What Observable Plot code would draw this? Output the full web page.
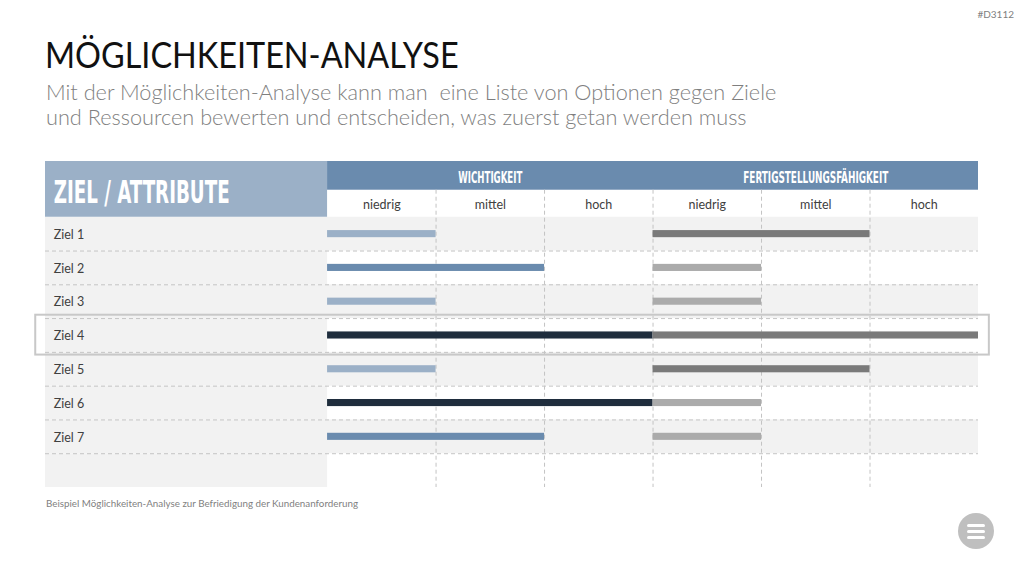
<!DOCTYPE html>
<html>
<head>
<meta charset="utf-8">
<script src="https://cdn.jsdelivr.net/npm/d3@7"></script>
<script src="https://cdn.jsdelivr.net/npm/@observablehq/plot@0.6"></script>
<style>
  body { margin: 0; background: #fff; }
  #page { position: relative; width: 1024px; height: 576px; overflow: hidden; font-family: Lato, "Open Sans", sans-serif; }
  #code { position: absolute; right: 10px; top: 8px; font-size: 10px; color: #808080; }
  #title { position: absolute; left: 45px; top: 36px; font-size: 36px; color: #111; white-space: nowrap; line-height: 1; transform: scaleX(0.9); transform-origin: left top; }
  #subtitle { position: absolute; left: 46px; top: 80px; font-size: 21.7px; font-weight: 300; color: #7f7f7f; line-height: 25px; white-space: nowrap; }
  #chart { position: absolute; left: 0; top: 140px; }
  #caption { position: absolute; left: 46px; top: 497px; font-size: 9.8px; color: #7f7f7f; white-space: nowrap; }
  #menu { position: absolute; left: 958px; top: 513px; width: 36px; height: 36px; border-radius: 50%; background: #bfbfbf; }
  #menu div { position: absolute; left: 9px; width: 18px; height: 3px; border-radius: 2px; background: #fff; }
</style>
</head>
<body>
<div id="page">
  <div id="code">#D3112</div>
  <div id="title">MÖGLICHKEITEN-ANALYSE</div>
  <div id="subtitle">Mit der Möglichkeiten-Analyse kann man&nbsp; eine Liste von Optionen gegen Ziele<br>und Ressourcen bewerten und entscheiden, was zuerst getan werden muss</div>
  <div id="chart"></div>
  <div id="caption">Beispiel Möglichkeiten-Analyse zur Befriedigung der Kundenanforderung</div>
  <div id="menu"><div style="top:11px"></div><div style="top:17px"></div><div style="top:23px"></div></div>
</div>
<script>
// ---- data ----
const ziele = ["Ziel 1", "Ziel 2", "Ziel 3", "Ziel 4", "Ziel 5", "Ziel 6", "Ziel 7"];
const wichtigkeit = [1, 2, 1, 3, 1, 3, 2];
const fertigstellung = [2, 1, 1, 3, 2, 1, 1];
const stufen = ["niedrig", "mittel", "hoch"];
const gruppen = ["WICHTIGKEIT", "FERTIGSTELLUNGSFÄHIGKEIT"];
const kopfLinks = "ZIEL / ATTRIBUTE";
const hervorgehoben = "Ziel 4";

// ---- styling ----
const wFarben = ["#9BB0C7", "#6A8BAE", "#1F2D3D"];
const fFarben = ["#ABABAB", "#7A7A7A", "#7A7A7A"];
const LEFT = -2.6;          // label column width in level units
const NCOL = stufen.length * gruppen.length;
const HEAD_TOP = -1.65, SUB_TOP = -0.8;
const NROWS = ziele.length + 1; // includes empty trailing row

const bars = ziele.flatMap((z, i) => [
  {i, x1: 0, x2: wichtigkeit[i], fill: wFarben[wichtigkeit[i] - 1]},
  {i, x1: stufen.length, x2: stufen.length + fertigstellung[i], fill: fFarben[fertigstellung[i] - 1]}
]);
const rowIdx = d3.range(NROWS);
const subLabels = gruppen.flatMap((g, gi) => stufen.map((s, k) => ({s, x: gi * stufen.length + k + 0.5})));
const hi = ziele.indexOf(hervorgehoben);
const FONT = "Lato, 'Open Sans', sans-serif";
const COND = "'DejaVu Sans Condensed', 'Liberation Sans Narrow', sans-serif";

const plot = Plot.plot({
  width: 1024,
  height: 355,
  margin: 0,
  x: {type: "linear", domain: [LEFT, NCOL], range: [45, 978], axis: null},
  y: {type: "linear", domain: [HEAD_TOP, NROWS], range: [21, 347], axis: null},
  color: {type: "identity"},
  style: {background: "transparent"},
  marks: [
    // left column background
    Plot.rect(rowIdx, {x1: LEFT, x2: 0, y1: d => d, y2: d => d + 1, fill: "#f2f2f2"}),
    // striped rows in chart area
    Plot.rect(ziele.map((z, i) => i).filter(i => i % 2 === 0), {x1: 0, x2: NCOL, y1: d => d, y2: d => d + 1, fill: "#f2f2f2"}),
    // header boxes
    Plot.rect([kopfLinks], {x1: LEFT, x2: 0, y1: HEAD_TOP, y2: 0, fill: "#9BB0C7"}),
    Plot.rect([gruppen], {x1: 0, x2: NCOL, y1: HEAD_TOP, y2: SUB_TOP, fill: "#6A8BAE"}),
    // dashed grid
    Plot.ruleY(d3.range(1, NROWS), {x1: LEFT, x2: NCOL, stroke: "#c4c4c4", strokeDasharray: "4,3", strokeWidth: 1}),
    Plot.ruleX(d3.range(1, NCOL), {y1: SUB_TOP, y2: NROWS, stroke: "#c4c4c4", strokeDasharray: "4,3", strokeWidth: 1}),
    // bars
    Plot.rect(bars, {x1: "x1", x2: "x2", y1: d => d.i + 0.395, y2: d => d.i + 0.605, fill: "fill"}),
    // highlight frame
    Plot.rect([hi], {x1: LEFT - 0.09, x2: NCOL + 0.1, y1: d => d - 0.1, y2: d => d + 1.08, fill: "none", stroke: "#c8c8c8", strokeWidth: 2}),
    // texts
    Plot.text(ziele, {x: LEFT + 0.075, y: (d, i) => i + 0.52, text: d => d, textAnchor: "start", fontSize: 12.5, fill: "#404040", fontFamily: FONT}),
    Plot.text(subLabels, {x: "x", y: SUB_TOP / 2 + 0.03, text: "s", fontSize: 12.5, fill: "#404040", fontFamily: FONT}),
    Plot.text(gruppen, {x: (d, i) => i * stufen.length + stufen.length / 2, y: (HEAD_TOP + SUB_TOP) / 2 + 0.06, text: d => d, fontSize: 16, fontWeight: "bold", fill: "#fff", fontFamily: COND}),
    Plot.text([kopfLinks], {x: LEFT + 0.075, y: HEAD_TOP / 2 + 0.1, text: d => d, textAnchor: "start", fontSize: 32, fontWeight: "bold", fill: "#fff", fontFamily: COND})
  ]
});

const widths = {"ZIEL / ATTRIBUTE": 176, "WICHTIGKEIT": 64, "FERTIGSTELLUNGSFÄHIGKEIT": 145};
d3.select(plot).selectAll("text").each(function() {
  const t = this.textContent;
  if (widths[t]) { this.setAttribute("textLength", widths[t]); this.setAttribute("lengthAdjust", "spacingAndGlyphs"); }
});
document.getElementById("chart").appendChild(plot);
</script>
</body>
</html>
